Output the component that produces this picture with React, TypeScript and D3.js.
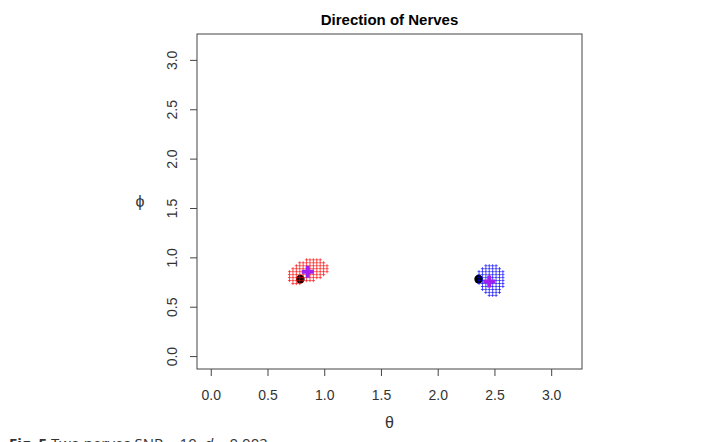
import React, { useEffect, useRef } from 'react';
import * as d3 from 'd3';

// grid of estimated directions, one row per phi value
const redRows: { phi: number; theta: number[] }[] = [
  { phi: 0.98, theta: [0.84, 0.87, 0.9, 0.93, 0.96] },
  { phi: 0.95, theta: [0.78, 0.81, 0.84, 0.87, 0.9, 0.93, 0.96, 0.99] },
  { phi: 0.92, theta: [0.75, 0.78, 0.81, 0.84, 0.87, 0.9, 0.93, 0.96, 0.99, 1.02] },
  { phi: 0.89, theta: [0.72, 0.75, 0.78, 0.81, 0.84, 0.87, 0.9, 0.93, 0.96, 0.99, 1.02] },
  { phi: 0.86, theta: [0.69, 0.72, 0.75, 0.78, 0.81, 0.84, 0.87, 0.9, 0.93, 0.96, 0.99, 1.02] },
  { phi: 0.83, theta: [0.69, 0.72, 0.75, 0.78, 0.81, 0.84, 0.87, 0.9, 0.93, 0.96, 0.99] },
  { phi: 0.8, theta: [0.69, 0.72, 0.75, 0.78, 0.81, 0.84, 0.87, 0.9, 0.93, 0.96] },
  { phi: 0.77, theta: [0.69, 0.72, 0.75, 0.78, 0.81, 0.84, 0.87, 0.9] },
  { phi: 0.74, theta: [0.72, 0.75, 0.78] },
];

const blueRows: { phi: number; theta: number[] }[] = [
  { phi: 0.92, theta: [2.42, 2.45, 2.48, 2.51] },
  { phi: 0.89, theta: [2.39, 2.42, 2.45, 2.48, 2.51, 2.54] },
  { phi: 0.86, theta: [2.36, 2.39, 2.42, 2.45, 2.48, 2.51, 2.54, 2.57] },
  { phi: 0.83, theta: [2.36, 2.39, 2.42, 2.45, 2.48, 2.51, 2.54, 2.57] },
  { phi: 0.8, theta: [2.36, 2.39, 2.42, 2.45, 2.48, 2.51, 2.54, 2.57] },
  { phi: 0.77, theta: [2.36, 2.39, 2.42, 2.45, 2.48, 2.51, 2.54, 2.57] },
  { phi: 0.74, theta: [2.36, 2.39, 2.42, 2.45, 2.48, 2.51, 2.54, 2.57] },
  { phi: 0.71, theta: [2.39, 2.42, 2.45, 2.48, 2.51, 2.54, 2.57] },
  { phi: 0.68, theta: [2.39, 2.42, 2.45, 2.48, 2.51, 2.54] },
  { phi: 0.65, theta: [2.42, 2.45, 2.48, 2.51, 2.54] },
  { phi: 0.62, theta: [2.45, 2.48, 2.51] },
];

// true directions (black) and estimated means (purple)
const truePoints: [number, number][] = [[0.785, 0.785], [2.356, 0.785]];
const meanPoints: [number, number][] = [[0.85, 0.86], [2.45, 0.76]];

const ticks = [0, 0.5, 1, 1.5, 2, 2.5, 3];

const App: React.FC = () => {
  const svgRef = useRef<SVGSVGElement>(null);

  useEffect(() => {
    if (!svgRef.current) return;
    const svg = d3.select(svgRef.current);
    svg.selectAll("*").remove();

    const box = { left: 197, right: 582, top: 34, bottom: 369 };
    const pad = Math.PI * 0.04;

    const x = d3.scaleLinear()
      .domain([-pad, Math.PI + pad])
      .range([box.left, box.right]);
    const y = d3.scaleLinear()
      .domain([-pad, Math.PI + pad])
      .range([box.bottom, box.top]);

    const font = "'Liberation Sans', Arial, sans-serif";

    // title
    svg.append("text")
      .attr("x", (box.left + box.right) / 2)
      .attr("y", 25)
      .attr("text-anchor", "middle")
      .attr("font-family", font)
      .attr("font-weight", "bold")
      .attr("font-size", 15)
      .text("Direction of Nerves");

    // x ticks
    const xt = svg.append("g");
    ticks.forEach(t => {
      xt.append("line")
        .attr("x1", x(t)).attr("x2", x(t))
        .attr("y1", box.bottom).attr("y2", box.bottom + 7)
        .attr("stroke", "#444");
      xt.append("text")
        .attr("x", x(t))
        .attr("y", 400)
        .attr("text-anchor", "middle")
        .attr("font-family", font)
        .attr("font-size", 14)
        .attr("fill", "#333")
        .text(t.toFixed(1));
    });

    // y ticks
    const yt = svg.append("g");
    ticks.forEach(t => {
      yt.append("line")
        .attr("x1", box.left - 7).attr("x2", box.left)
        .attr("y1", y(t)).attr("y2", y(t))
        .attr("stroke", "#444");
      yt.append("text")
        .attr("transform", `translate(177,${y(t)}) rotate(-90)`)
        .attr("text-anchor", "middle")
        .attr("font-family", font)
        .attr("font-size", 14)
        .attr("fill", "#333")
        .text(t.toFixed(1));
    });

    // axis labels
    svg.append("text")
      .attr("x", (box.left + box.right) / 2)
      .attr("y", 428)
      .attr("text-anchor", "middle")
      .attr("font-family", font)
      .attr("font-size", 16)
      .attr("fill", "#333")
      .text("θ");

    svg.append("text")
      .attr("x", 140)
      .attr("y", (box.top + box.bottom) / 2 + 5)
      .attr("text-anchor", "middle")
      .attr("font-family", font)
      .attr("font-size", 16)
      .attr("fill", "#333")
      .text("ϕ");

    // true directions
    svg.selectAll("circle.true")
      .data(truePoints)
      .enter()
      .append("circle")
      .attr("cx", d => x(d[0]))
      .attr("cy", d => y(d[1]))
      .attr("r", 4.3)
      .attr("fill", "#000");

    const cross = (g: d3.Selection<SVGGElement, unknown, null, undefined>,
                   rows: { phi: number; theta: number[] }[], color: string) => {
      const pts = rows.flatMap(r => r.theta.map(t => [t, r.phi] as [number, number]));
      g.selectAll("path")
        .data(pts)
        .enter()
        .append("path")
        .attr("d", d => {
          const cx = x(d[0]), cy = y(d[1]), s = 1.6;
          return `M${cx - s},${cy}H${cx + s}M${cx},${cy - s}V${cy + s}`;
        })
        .attr("stroke", color)
        .attr("stroke-width", 1)
        .attr("stroke-opacity", 0.65);
    };

    cross(svg.append("g"), redRows, "#ff0000");
    cross(svg.append("g"), blueRows, "#0000ff");

    // estimated means
    svg.selectAll("path.mean")
      .data(meanPoints)
      .enter()
      .append("path")
      .attr("d", d => {
        const cx = x(d[0]), cy = y(d[1]), s = 6;
        return `M${cx - s},${cy}H${cx + s}M${cx},${cy - s}V${cy + s}`;
      })
      .attr("stroke", "#a020f0")
      .attr("stroke-width", 4);

    // plot box
    svg.append("rect")
      .attr("x", box.left)
      .attr("y", box.top)
      .attr("width", box.right - box.left)
      .attr("height", box.bottom - box.top)
      .attr("fill", "none")
      .attr("stroke", "#444")
      .attr("stroke-width", 1);

    // caption (cut off at the bottom edge, as in the source figure)
    const cap = svg.append("text")
      .attr("x", 9)
      .attr("y", 449)
      .attr("font-family", "'Open Sans', 'Noto Sans', sans-serif")
      .attr("font-size", 15)
      .attr("fill", "#333");
    cap.append("tspan").attr("font-weight", "bold").text("Fig. 5");
    cap.append("tspan").text("  Two nerves SNR = 10, ");
    cap.append("tspan").attr("font-style", "italic").text("d");
    cap.append("tspan").text(" = 0.002");
  }, []);

  return (
    <div style={{ position: 'absolute', left: 0, top: 0, width: 717, height: 442, background: '#fff' }}>
      <svg ref={svgRef} width={717} height={442} />
    </div>
  );
};

export default App;
